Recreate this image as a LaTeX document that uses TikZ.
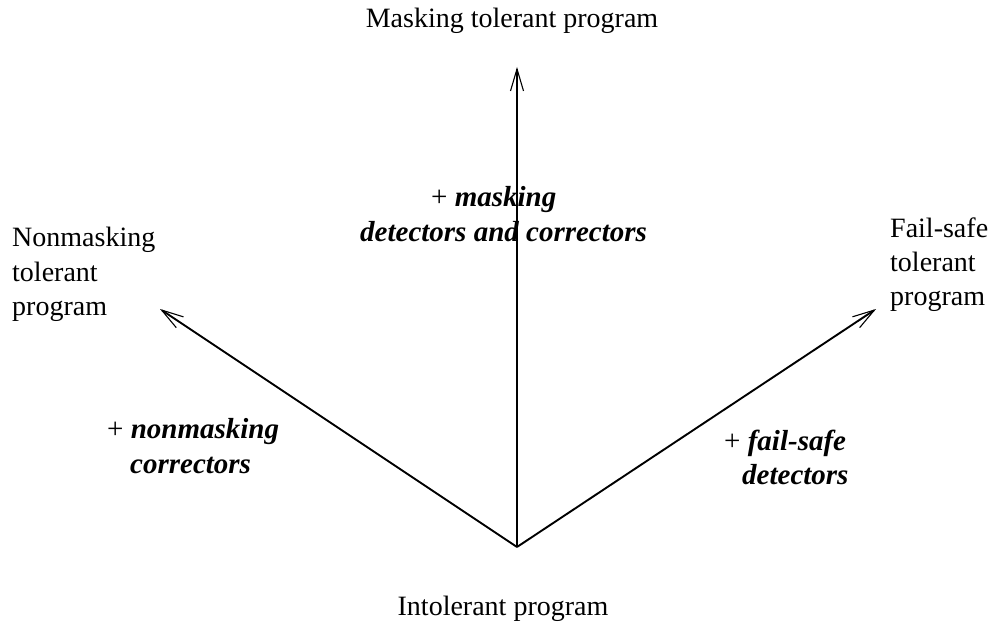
\documentclass[tikz,border=0pt]{standalone}
\usepackage{fontspec}
\setmainfont{Liberation Serif}
\usetikzlibrary{arrows.meta}
\begin{document}
\begin{tikzpicture}[x=1pt,y=-1pt,
  lbl/.style={font=\fontsize{28}{34}\selectfont, inner sep=0pt},
  emlbl/.style={font=\fontsize{29}{35}\selectfont, inner sep=0pt},
  arr/.style={line width=1.9pt, -{Straight Barb[length=22pt,width=13pt,line width=1.1pt]}}]
\useasboundingbox (0,0) rectangle (995,628);
\coordinate (O) at (517,547);
\coordinate (T) at (517,67);
\coordinate (L) at (160,309);
\coordinate (R) at (876,309);
\draw[arr] (O) -- (T);
\draw[arr] (O) -- (L);
\draw[arr] (O) -- (R);
\node[lbl, anchor=base] (mask) at (512,28) {Masking tolerant program};
\node[lbl, anchor=base] (intol) at (503,615) {Intolerant program};
\node[lbl, anchor=base west] (nm1) at (12,247) {Nonmasking};
\node[lbl, anchor=base west] (nm2) at (12,281) {tolerant};
\node[lbl, anchor=base west] (nm3) at (12,315) {program};
\node[lbl, anchor=base west] (fs1) at (890,237) {Fail-safe};
\node[lbl, anchor=base west] (fs2) at (890,271) {tolerant};
\node[lbl, anchor=base west] (fs3) at (890,305) {program};
\node[emlbl, anchor=base west] (mk1) at (431,207) {+ \textbf{\textit{masking}}};
\node[emlbl, anchor=base west] (mk2) at (360,242) {\textbf{\textit{detectors and correctors}}};
\node[emlbl, anchor=base west] (nc1) at (107,438) {+ \textbf{\textit{nonmasking}}};
\node[emlbl, anchor=base west] (nc2) at (130,473) {\textbf{\textit{correctors}}};
\node[emlbl, anchor=base west] (fd1) at (724,450) {+ \textbf{\textit{fail-safe}}};
\node[emlbl, anchor=base west] (fd2) at (742,484) {\textbf{\textit{detectors}}};
\end{tikzpicture}
\end{document}
